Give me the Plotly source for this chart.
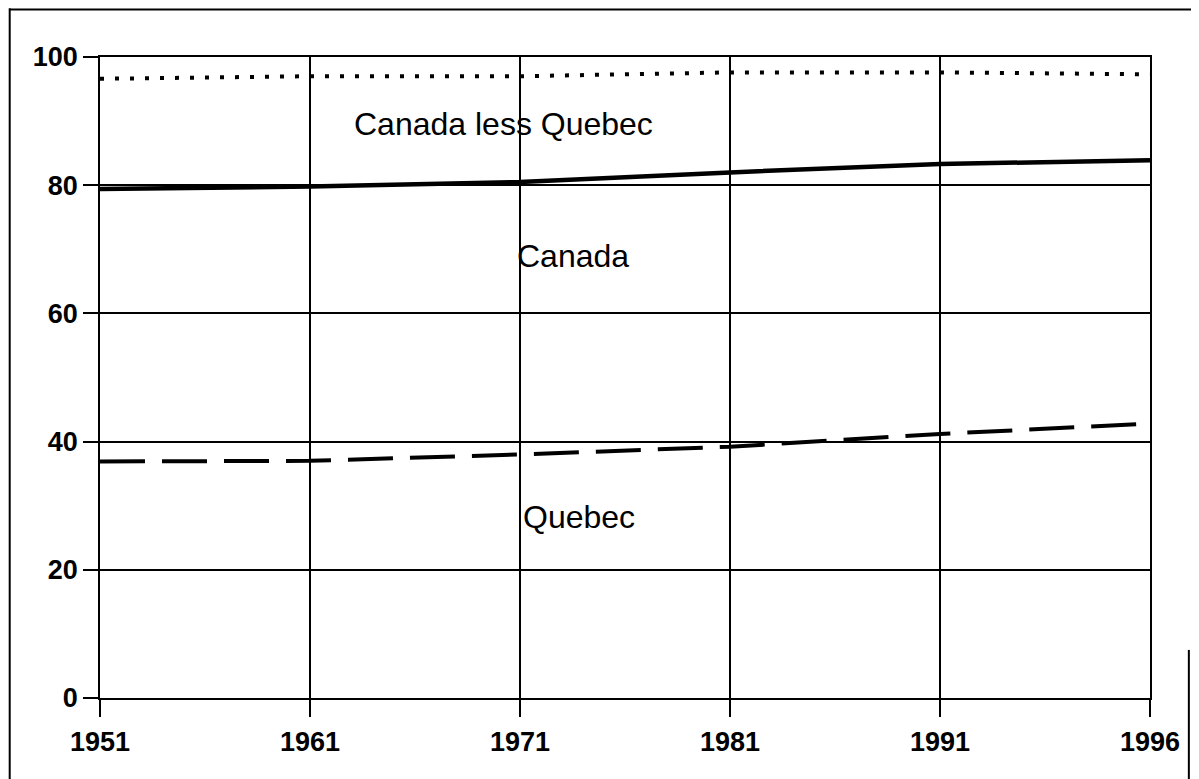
import plotly.graph_objects as go

years = ["1951", "1961", "1971", "1981", "1991", "1996"]
canada_less_quebec = [96.6, 97.0, 97.0, 97.6, 97.6, 97.3]
canada = [79.4, 79.8, 80.5, 82.0, 83.3, 83.9]
quebec = [36.9, 37.0, 38.0, 39.2, 41.2, 42.8]
y_ticks = [0, 20, 40, 60, 80, 100]

labels = [
    ("Canada less Quebec", 1.92, 89.6),
    ("Canada", 2.25, 69.0),
    ("Quebec", 2.28, 28.2),
]

tick_font = dict(family="Liberation Sans, Arial", size=27, color="black", weight="bold")

fig = go.Figure()
fig.add_trace(go.Scatter(x=years, y=canada_less_quebec, mode="lines",
                         line=dict(color="black", width=4, dash="4px,11px"),
                         name="Canada less Quebec"))
fig.add_trace(go.Scatter(x=years, y=canada, mode="lines",
                         line=dict(color="black", width=4.5),
                         name="Canada"))
fig.add_trace(go.Scatter(x=years, y=quebec, mode="lines",
                         line=dict(color="black", width=4, dash="45px,17px"),
                         name="Quebec"))

for text, xi, yv in labels:
    fig.add_annotation(x=xi, y=yv, xref="x", yref="y", text=text, showarrow=False,
                       font=dict(family="Liberation Sans, Arial", size=32, color="black"))

# scan frame edges
fig.add_shape(type="line", xref="paper", yref="paper", x0=-0.086, x1=-0.086, y0=-0.15, y1=1.076,
              line=dict(color="black", width=2))
fig.add_shape(type="line", xref="paper", yref="paper", x0=-0.086, x1=1.06, y0=1.074, y1=1.074,
              line=dict(color="black", width=2))
fig.add_shape(type="line", xref="paper", yref="paper", x0=1.037, x1=1.037, y0=0.075, y1=-0.15,
              line=dict(color="black", width=2))

fig.update_layout(
    width=1199, height=779,
    margin=dict(l=92, r=57, t=49, b=89),
    paper_bgcolor="white", plot_bgcolor="white",
    showlegend=False,
)
fig.update_xaxes(type="category", range=[0, 5], showgrid=True, gridcolor="black", gridwidth=1.5,
                 showline=True, linecolor="black", linewidth=1.5, mirror=True,
                 ticks="outside", ticklen=17, tickwidth=1.5, tickcolor="black",
                 tickfont=tick_font, ticklabelstandoff=2)
fig.update_yaxes(range=[0, 100], tickvals=y_ticks, showgrid=True, gridcolor="black", gridwidth=1.5,
                 showline=True, linecolor="black", linewidth=1.5, mirror=True,
                 ticks="outside", ticklen=15, tickwidth=1.5, tickcolor="black",
                 tickfont=tick_font, zeroline=False)

fig.write_html("out.html")
